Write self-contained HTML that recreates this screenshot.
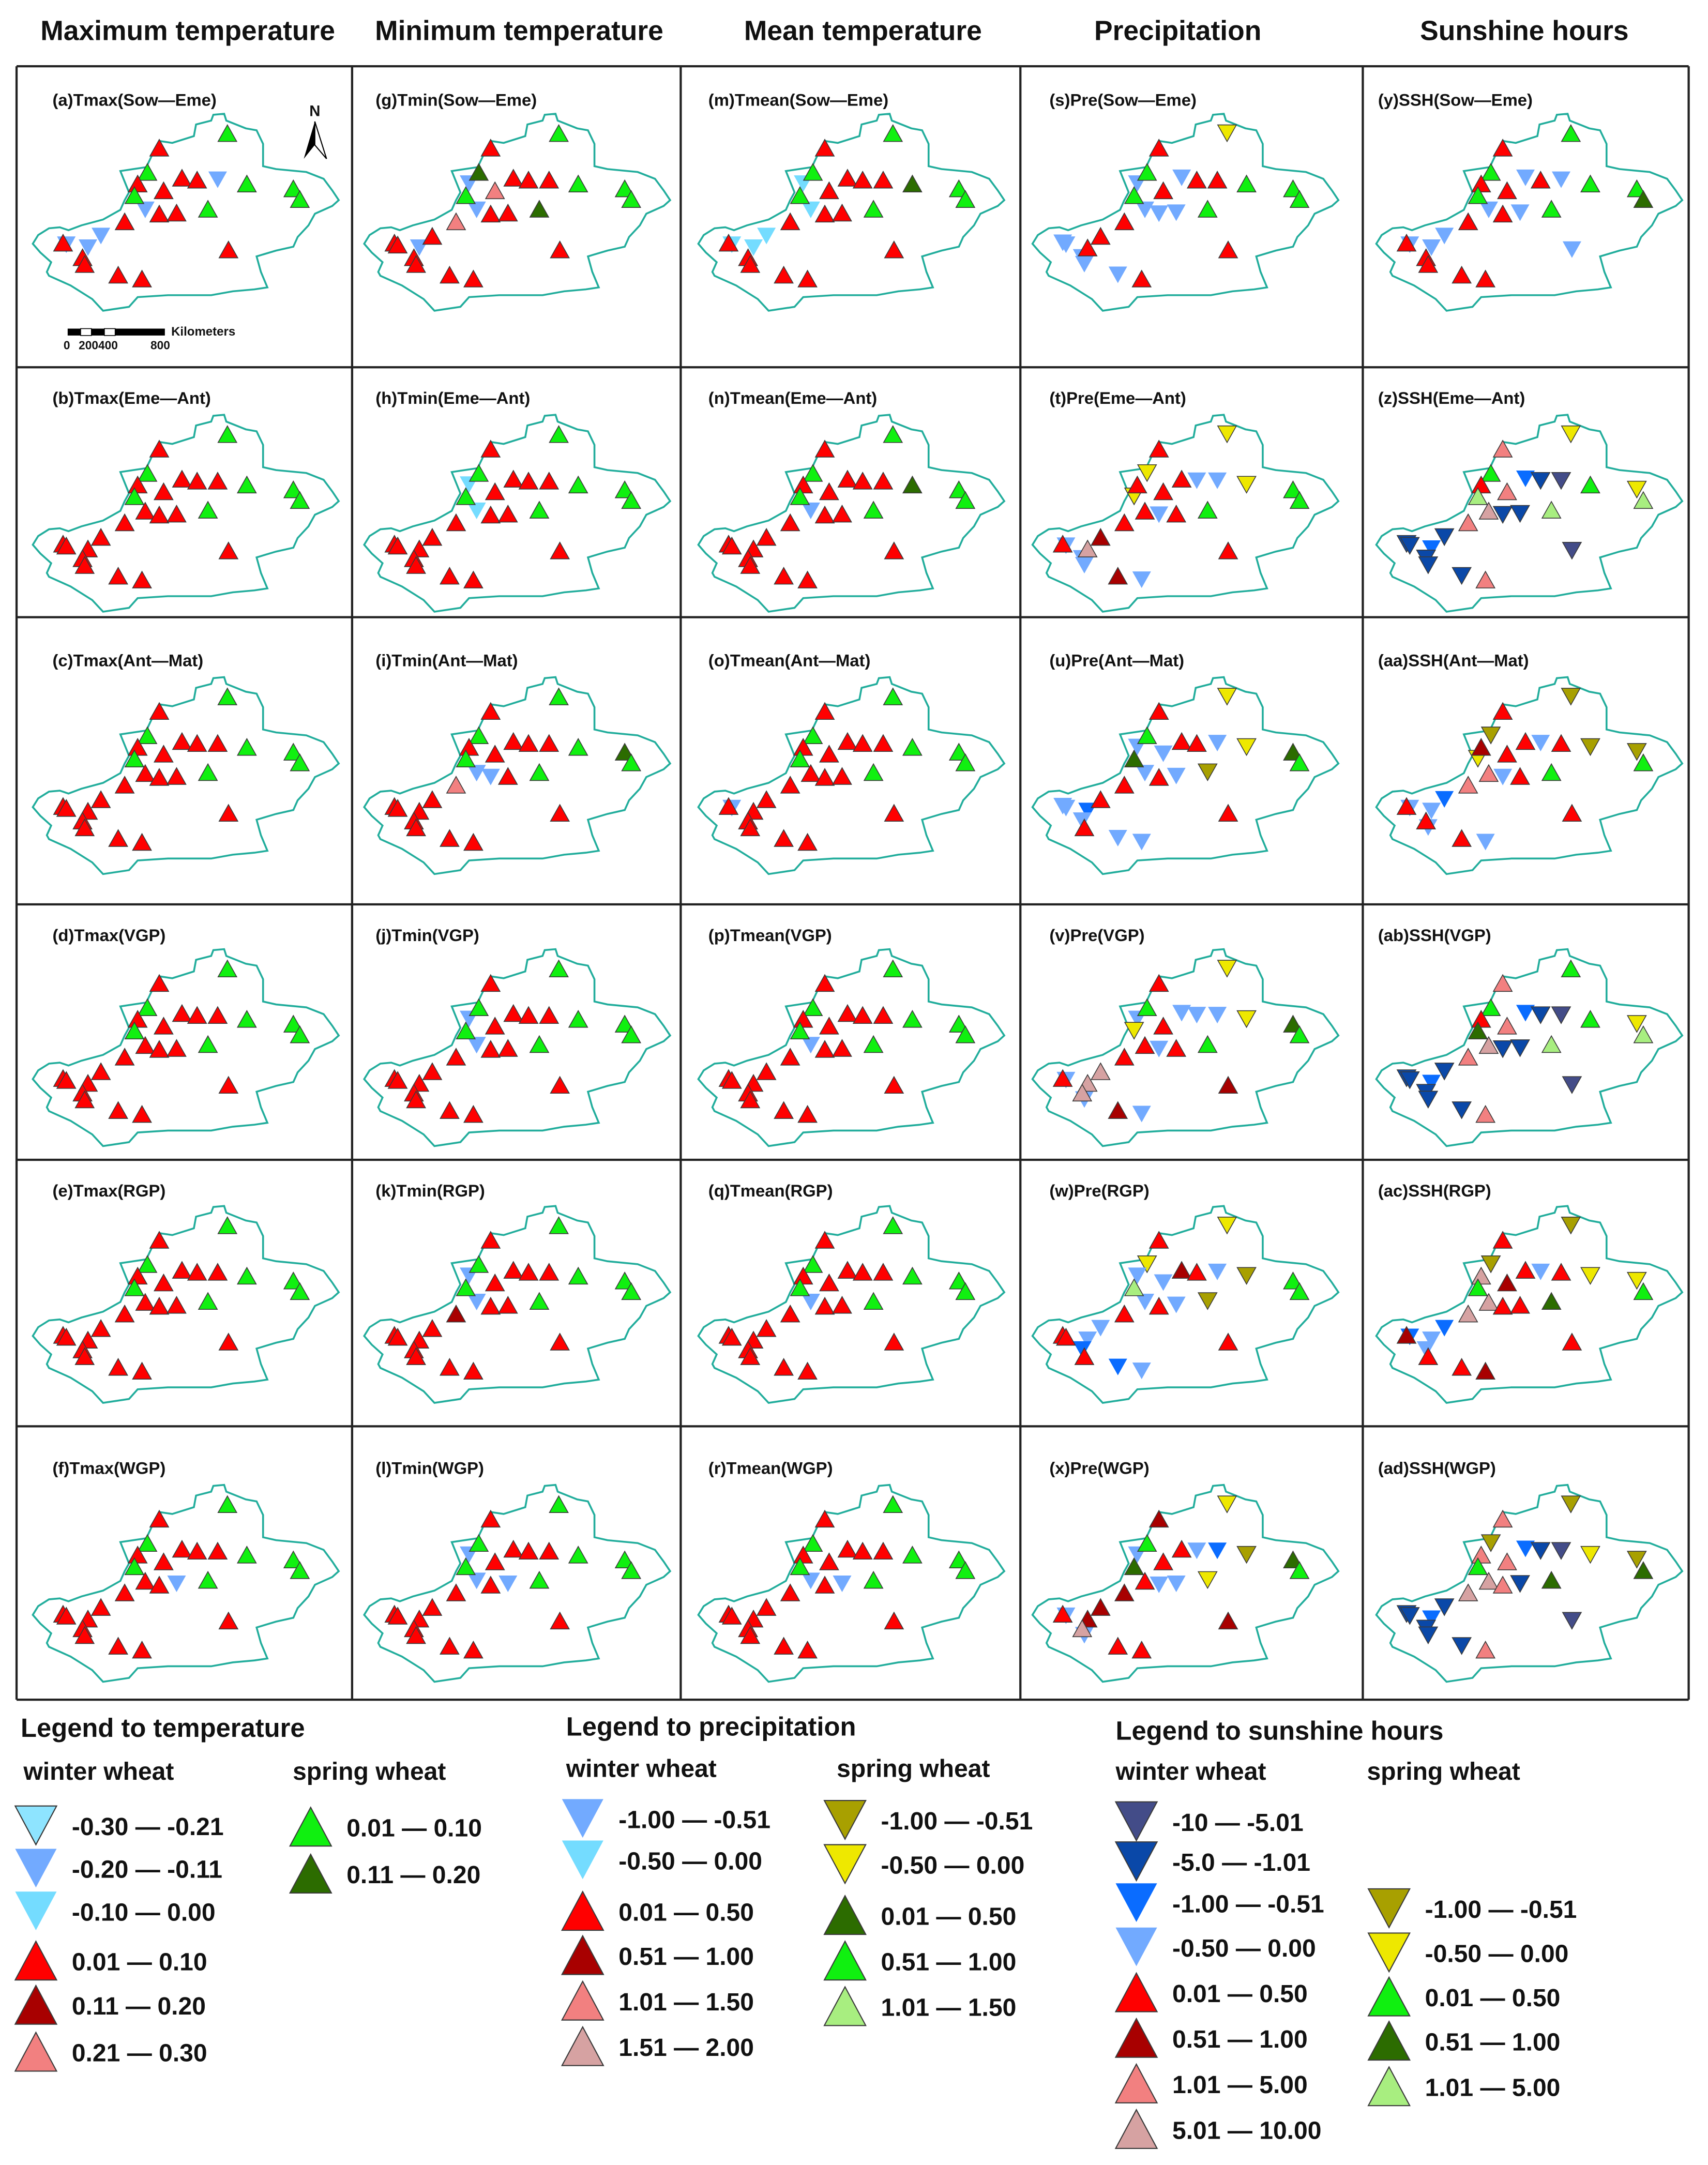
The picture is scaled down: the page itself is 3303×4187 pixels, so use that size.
<!DOCTYPE html>
<html><head><meta charset="utf-8"><style>
html,body{margin:0;padding:0;background:#fff;}
svg{display:block;}
text{font-family:"Liberation Sans",sans-serif;font-weight:bold;fill:#111;}
</style></head><body>
<svg id="fig" xmlns="http://www.w3.org/2000/svg" width="3303" height="4187" viewBox="0 0 1237 1568" preserveAspectRatio="none">
<defs>
<path id="outline" d="M75,915 L100,870 L150,835 L200,830 L240,845 L300,820 L400,790 L480,740 L500,690 L520,650 L480,540 L600,520 L630,450 L660,385 L720,395 L820,360 L830,300 L900,280 L910,250 L960,245 L970,280 L1060,320 L1110,330 L1140,400 L1140,515 L1200,530 L1340,545 L1420,580 L1460,640 L1490,690 L1460,720 L1380,760 L1350,820 L1300,880 L1280,930 L1200,950 L1110,980 L1130,1060 L1160,1140 L1100,1150 L1000,1160 L900,1180 L700,1180 L560,1190 L520,1240 L400,1260 L350,1200 L250,1130 L150,1080 L140,1060 L160,1010 L110,960 Z" fill="none" stroke="#22ad9c" stroke-width="3.6" vector-effect="non-scaling-stroke"/>
</defs>
<g id="headers" font-size="20">
<text x="136" y="29" text-anchor="middle">Maximum temperature</text>
<text x="376" y="29" text-anchor="middle">Minimum temperature</text>
<text x="625" y="29" text-anchor="middle">Mean temperature</text>
<text x="853" y="29" text-anchor="middle">Precipitation</text>
<text x="1104" y="29" text-anchor="middle">Sunshine hours</text>
</g>
<g id="grid"></g>
<g id="maps"></g>
<g id="extras">
<g>
<rect x="49" y="238" width="9.4" height="5" fill="#000"/><rect x="58.4" y="238" width="7.8" height="5" fill="#fff" stroke="#000" stroke-width="0.6"/>
<rect x="66.2" y="238" width="9.4" height="5" fill="#000"/><rect x="75.6" y="238" width="7.8" height="5" fill="#fff" stroke="#000" stroke-width="0.6"/>
<rect x="83.4" y="238" width="36" height="5" fill="#000"/>
<text x="124" y="243" font-size="9" font-weight="normal">Kilometers</text>
<text x="46" y="253" font-size="8.5" font-weight="normal">0</text>
<text x="57" y="253" font-size="8.5" font-weight="normal">200400</text>
<text x="109" y="253" font-size="8.5" font-weight="normal">800</text>
</g>
<g>
<text x="228" y="84" font-size="11" font-weight="normal" text-anchor="middle">N</text>
<path d="M228,88 L220,115 L228,105 Z" fill="#000"/>
<path d="M228,88 L236.5,115 L228,105 Z" fill="#fff" stroke="#000" stroke-width="0.8"/>
</g>
</g>
<g id="legend"></g>
</svg>
<script>
// station locations (reference-map coords, same network in every panel)
const stationX = [975,660,605,765,835,930,1065,560,680,545,1280,1310,595,660,740,885,500,390,215,230,330,305,315,980,470,580];
const stationY = [345,420,545,575,585,585,605,605,640,665,630,685,740,760,755,735,800,875,910,920,935,985,1020,945,1075,1095];
// class codes per panel (one char per station)
const panelIds = ["a","b","c","d","e","f","g","h","i","j","k","l","m","n","o","p","q","r","s","t","u","v","w","x","y","z","aa","ab","ac","ad"];
const panelTitles = ["(a)Tmax(Sow—Eme)","(b)Tmax(Eme—Ant)","(c)Tmax(Ant—Mat)","(d)Tmax(VGP)","(e)Tmax(RGP)","(f)Tmax(WGP)",
"(g)Tmin(Sow—Eme)","(h)Tmin(Eme—Ant)","(i)Tmin(Ant—Mat)","(j)Tmin(VGP)","(k)Tmin(RGP)","(l)Tmin(WGP)",
"(m)Tmean(Sow—Eme)","(n)Tmean(Eme—Ant)","(o)Tmean(Ant—Mat)","(p)Tmean(VGP)","(q)Tmean(RGP)","(r)Tmean(WGP)",
"(s)Pre(Sow—Eme)","(t)Pre(Eme—Ant)","(u)Pre(Ant—Mat)","(v)Pre(VGP)","(w)Pre(RGP)","(x)Pre(WGP)",
"(y)SSH(Sow—Eme)","(z)SSH(Eme—Ant)","(aa)SSH(Ant—Mat)","(ab)SSH(VGP)","(ac)SSH(RGP)","(ad)SSH(WGP)"];
const panelClasses = [
"GRGRRBGRRGGGBRRGRBRBBRRRRR","GRGRRRGRRGGGRRRGRRRRRRRRRR","GRGRRRGRRGGGRRRGRRRRRRRRRR","GRGRRRGRRGGGRRRGRRRRRRRRRR","GRGRRRGRRGGGRRRGRRRRRRRRRR","GRGRRRGRRGGGRRBGRRRRRRRRRR",
"GRKRRRGBPGGGBRRKPRRRBRRRRR","GRGRRRGCRGGGCRRGRRRRRRRRRR","GRGRRRGRRGKGBBRGPRRRRRRRRR","GRGRRRGBRGGGBRRGRRRRRRRRRR","GRGRRRGBRGGGBRRGDRRRRRRRRR","GRGRRRGBRGGGBRBGRRRRRRRRRR",
"GRGRRRKCRGGGCRRGRCRCCRRRRR","GRGRRRKRRGGGBRRGRRRRRRRRRR","GRGRRRGRRGGGRRRGRRRBRRRRRR","GRGRRRGRRGGGBRRGRRRRRRRRRR","GRGRRRGRRGGGBRRGRRRRRRRRRR","GRGRRRGRRGGGBRBGRRRRRRRRRR",
"YRGBRRGBRGGGBBBGRRBBRBBRBR","YRYRBBYRRYGGRBRGRDRBQBBRDB","YRGRRBYBBKKGBRBORRBBABRRBB","YRGBBBYBRYKGRBRGRQRBQQBDDB","YRYDRBOBBEGGBRBORBRRBARRAB","YDGRBAOBRKKGRBBYDDRBDQBDRR",
"GRGBRBGRRGGKBRBGRBRBBRRBRR","YPGAMNGRPEYEQMMEPMMMAMMNMP","ORORBRODRYOGPBRGPARBBRBRRB","GPGAMNGRPKYEQMMEPMMMAMMNMP","ORORBRYQDGYGQRRKQADABBRRRD","OPOAMNYPPGOKQPMKQMMMAMMNMP"];

const colX=[12,255,493,739,987,1223], rowY=[48,266,447,655,840,1033,1231];
const colDx=[0,-3,1,-3,-2], rowDy=[0,0,9,-2,-1,8];
const titleX=[26,17,20,21,11], titleY=[24,22,31,22,22,30];
const fill={R:"#ff0000",D:"#a80000",P:"#f28080",Q:"#d6a2a2",G:"#10f010",K:"#2c6c00",E:"#a8ee80",B:"#72aaff",C:"#74dcff",A:"#0a6cff",M:"#0a48a8",N:"#434c88",O:"#a8a000",Y:"#eee800"};
const isDown=c=>"BCAMNOY".indexOf(c)>=0;
const NS="http://www.w3.org/2000/svg";
function mk(tag,attrs,parent){const e=document.createElementNS(NS,tag);for(const k in attrs)e.setAttribute(k,attrs[k]);parent.appendChild(e);return e;}
function tri(cx,cy,w,h,c,parent,sw){
  const down=isDown(c);
  const d=down?`M${cx-w/2},${cy-h/2} L${cx+w/2},${cy-h/2} L${cx},${cy+h/2} Z`:`M${cx},${cy-h/2} L${cx+w/2},${cy+h/2} L${cx-w/2},${cy+h/2} Z`;
  const noStroke="BCA".indexOf(c)>=0;
  return mk("path",{d:d,fill:fill[c],stroke:noStroke?"none":"#3a3a3a","stroke-width":noStroke?0:(sw||0.6)},parent);
}
// grid
const grid=document.getElementById("grid");
for(const x of colX){const l=mk("line",{x1:x,y1:48,x2:x,y2:1231,stroke:"#222","stroke-width":1.6},grid);

}
for(const y of rowY){const l=mk("line",{x1:12,y1:y,x2:1223,y2:y,stroke:"#222","stroke-width":1.6},grid);

}
// maps
const maps=document.getElementById("maps");
const sx=0.1566, sy=0.1405;
panelIds.forEach((id,i)=>{
  const col=Math.floor(i/6), row=i%6;
  const ox=colX[col]+colDx[col], oy=rowY[row]+rowDy[row];
  const g=mk("g",{},maps);
  
  
  const t=mk("text",{x:colX[col]+titleX[col],y:rowY[row]+titleY[row]+4.5,"font-size":12.3},g);
  t.textContent=panelTitles[i];
  
  
  const u=mk("use",{href:"#outline",transform:`translate(${ox},${oy}) scale(${sx},${sy})`},g);
  
  
  const cls=panelClasses[i];
  const order=[...Array(stationX.length).keys()].sort((a,b)=>(isDown(cls[b])?1:0)-(isDown(cls[a])?1:0));
  for(const k of order){
    const c=cls[k];
    const m=tri(ox+stationX[k]*sx, oy+stationY[k]*sy, 13.5, 12, c, g);
    
    
  }
});
// legend
const legend=document.getElementById("legend");
function ltext(x,y,s,size,parent,name){const t=mk("text",{x:x,y:y,"font-size":size},parent);t.textContent=s;

return t;}
const legTitles=[["Legend to temperature",15,1258],["Legend to precipitation",410,1257],["Legend to sunshine hours",808,1260]];
for(const [s,x,y] of legTitles) ltext(x,y,s,19,legend,"legend-title");
const legSub=[["winter wheat",17,1289],["spring wheat",212,1289],["winter wheat",410,1287],["spring wheat",606,1287],["winter wheat",808,1289],["spring wheat",990,1289]];
for(const [s,x,y] of legSub) ltext(x,y,s,18,legend,"legend-subtitle");
const legItems=[
 ["L",26,1322,"-0.30 — -0.21"],["B",26,1353,"-0.20 — -0.11"],["C",26,1384,"-0.10 — 0.00"],["R",26,1420,"0.01 — 0.10"],["D",26,1452,"0.11 — 0.20"],["P",26,1486,"0.21 — 0.30"],
 ["G",225,1323,"0.01 — 0.10"],["K",225,1357,"0.11 — 0.20"],
 ["B",422,1317,"-1.00 — -0.51"],["C",422,1347,"-0.50 — 0.00"],["R",422,1384,"0.01 — 0.50"],["D",422,1416,"0.51 — 1.00"],["P",422,1449,"1.01 — 1.50"],["Q",422,1482,"1.51 — 2.00"],
 ["O",612,1318,"-1.00 — -0.51"],["Y",612,1350,"-0.50 — 0.00"],["K",612,1387,"0.01 — 0.50"],["G",612,1420,"0.51 — 1.00"],["E",612,1453,"1.01 — 1.50"],
 ["N",823,1319,"-10 — -5.01"],["M",823,1348,"-5.0 — -1.01"],["A",823,1378,"-1.00 — -0.51"],["B",823,1410,"-0.50 — 0.00"],["R",823,1443,"0.01 — 0.50"],["D",823,1476,"0.51 — 1.00"],["P",823,1509,"1.01 — 5.00"],["Q",823,1542,"5.01 — 10.00"],
 ["O",1006,1382,"-1.00 — -0.51"],["Y",1006,1414,"-0.50 — 0.00"],["G",1006,1446,"0.01 — 0.50"],["K",1006,1478,"0.51 — 1.00"],["E",1006,1511,"1.01 — 5.00"]];
fill.L="#8ee4ff";
for(const [c,x,y,s] of legItems){
  let m;
  if(c==="L"){m=mk("path",{d:`M${x-15},${y-14} L${x+15},${y-14} L${x},${y+14} Z`,fill:fill.L,stroke:"#333","stroke-width":0.8},legend);}
  else m=tri(x,y,30,28,c,legend,0.8);
  
  
  ltext(x+26,y+7,s,18,legend,"legend-label");
}
</script>
</body></html>
